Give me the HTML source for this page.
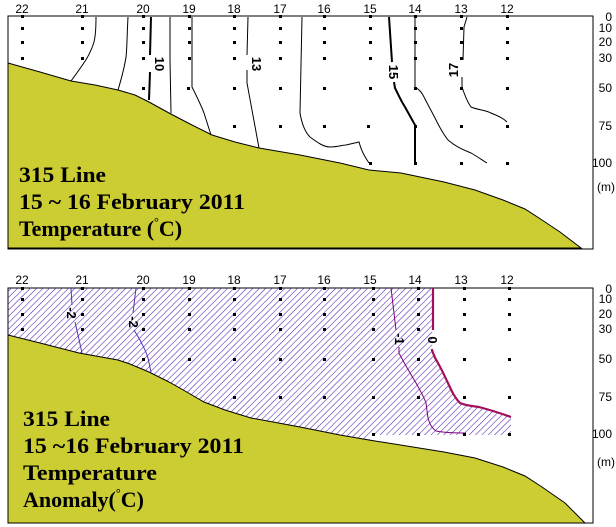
<!DOCTYPE html>
<html><head><meta charset="utf-8"><style>
html,body{margin:0;padding:0;background:#fff;}
svg{display:block;}
text{font-family:"Liberation Sans",sans-serif;}
.t{font-family:"Liberation Serif",serif;font-weight:bold;font-size:22px;fill:#000;}
.n{font-size:12px;fill:#000;}
</style></head><body>
<svg width="616" height="527" viewBox="0 0 616 527" xmlns="http://www.w3.org/2000/svg">
<defs>
<pattern id="h" patternUnits="userSpaceOnUse" width="4.5" height="4.5" patternTransform="rotate(45)">
<line x1="0" y1="0" x2="0" y2="4.5" stroke="#5020b0" stroke-width="1.1"/>
</pattern>
</defs>
<!-- TOP PANEL -->
<rect x="8" y="16" width="585" height="233" fill="#fff" stroke="#000" stroke-width="1"/>
<path d="M8,63 L40,72 71,81 95,85 118,90 135,95 149,102 169,113 190,124 212,135 235,142 259,148 300,155 340,163 369,170 401,173 444,182 475,190 503,200 525,209 542,220 560,232 581,248 L8,248 Z" fill="#cccc33" stroke="#000" stroke-width="1"/>
<g fill="none" stroke="#000" stroke-width="1">
<path d="M96,17 C96,30 95,38 94,42 C90,55 85,62 71,81"/>
<path d="M128,17 C127,35 127,50 126,57 C124,70 121,80 118,90"/>
<path d="M151,17 L150,55 M150,72 L149,100" stroke-width="2"/>
<path d="M170,17 L170,60 L171,113"/>
<path d="M192,17 L192,87 C197,97 201,105 204,113 L211,135"/>
<path d="M248,17 L247,55 M247,70 L247,83 L259,148"/>
<path d="M302,17 L300,113 C302,125 305,132 310,137 C318,143 324,147 330,147 C338,147 342,145 346,145 L359,142 C361,150 364,156 369,163"/>
<path d="M389,17 L392,62 M394,82 L395,88 C399,96 401,101 405,107 L415,125 L415,163" stroke-width="2"/>
<path d="M415,17 L415,87 C420,90 422,93 424,97 C428,105 432,112 436,120 C440,128 444,135 448,140 C456,147 464,150 471,153 C478,157 482,160 487,163"/>
<path d="M467,17 L464,27 L463,60 M462,77 L462,87 C465,96 468,103 471,107 C478,110 485,110 491,113 C498,116 503,118 507,122"/>
</g>
<g font-weight="bold" font-size="13" font-family="Liberation Sans,sans-serif">
<text transform="translate(155,64) rotate(90)" text-anchor="middle">10</text>
<text transform="translate(252,64) rotate(90)" text-anchor="middle">13</text>
<text transform="translate(389,72) rotate(90)" text-anchor="middle">15</text>
<text transform="translate(458,70) rotate(-90)" text-anchor="middle">17</text>
</g>
<g class="n" text-anchor="middle">
<text x="22" y="13">22</text><text x="82" y="13">21</text><text x="143" y="13">20</text><text x="189" y="13">19</text><text x="234" y="13">18</text><text x="280" y="13">17</text><text x="324" y="13">16</text><text x="370" y="13">15</text><text x="415" y="13">14</text><text x="461" y="13">13</text><text x="507" y="13">12</text>
</g>
<g class="n" text-anchor="end">
<text x="612" y="21">0</text><text x="612" y="32">10</text><text x="612" y="46">20</text><text x="612" y="62">30</text><text x="612" y="92">50</text><text x="612" y="130">75</text><text x="612" y="167">100</text><text x="615" y="191">(m)</text>
</g>
<text class="t" x="19" y="182" textLength="87" lengthAdjust="spacingAndGlyphs">315 Line</text>
<text class="t" x="19" y="209" textLength="226" lengthAdjust="spacingAndGlyphs">15 ~ 16 February 2011</text>
<text class="t" x="19" y="236">Temperature (<tspan font-size="12" dy="-10">°</tspan><tspan dy="10">C)</tspan></text>

<!-- BOTTOM PANEL -->
<rect x="8" y="288" width="585" height="235" fill="#fff" stroke="#000" stroke-width="1"/>
<path d="M8,288 L433,288 L432,350 C434,356 436,360 438,363 C442,370 445,377 448,383 C452,392 455,398 460,403 C467,406 473,406 479,407 C490,410 500,413 511,417 L511,435 L371,435 L369,440 L340,435 L300,427 L251,418 L225,410 L204,402 L185,391 L169,382 L149,372 L130,364 L118,360 L79,353 L40,343 L8,335 Z" fill="url(#h)"/>
<path d="M8,335 L40,343 79,353 118,360 130,364 149,372 169,382 185,391 204,402 225,410 251,418 300,427 340,435 369,440 444,452 475,458 503,467 525,476 542,487 565,503 585,523 L8,523 Z" fill="#cccc33" stroke="#000" stroke-width="1"/>
<g fill="none" stroke-width="1">
<path d="M71,288 L72,305 M75,322 L78,335 L82,353" stroke="#5a2fb0"/>
<path d="M136,288 L133,313 M134,330 L140,340 C143,346 146,351 148,358 L151,372" stroke="#5a2fb0"/>
<path d="M391,288 L396,330 M399,347 L399,353 C404,363 410,373 416,383 C420,390 424,397 426,403 L428,418 C430,425 432,428 436,431 C446,433 456,433 466,433" stroke="#800080"/>
<path d="M433,288 L433,330 M432,349 L432,350 C434,356 436,360 438,363 C442,370 445,377 448,383 C452,392 455,398 460,403 C467,406 473,406 479,407 C490,410 500,413 511,417" stroke="#a0105a" stroke-width="2.2"/>
</g>
<g font-weight="bold" font-size="13" font-family="Liberation Sans,sans-serif">
<text transform="translate(67,313) rotate(90)" text-anchor="middle">-2</text>
<text transform="translate(129,322) rotate(90)" text-anchor="middle">-2</text>
<text transform="translate(395,339) rotate(90)" text-anchor="middle">-1</text>
<text transform="translate(428,340) rotate(90)" text-anchor="middle">0</text>
</g>
<g class="n" text-anchor="middle">
<text x="22" y="284">22</text><text x="82" y="284">21</text><text x="143" y="284">20</text><text x="189" y="284">19</text><text x="234" y="284">18</text><text x="280" y="284">17</text><text x="324" y="284">16</text><text x="370" y="284">15</text><text x="415" y="284">14</text><text x="461" y="284">13</text><text x="507" y="284">12</text>
</g>
<g class="n" text-anchor="end">
<text x="612" y="293">0</text><text x="612" y="303">10</text><text x="612" y="318">20</text><text x="612" y="333">30</text><text x="612" y="363">50</text><text x="612" y="401">75</text><text x="612" y="438">100</text><text x="615" y="466">(m)</text>
</g>
<text class="t" x="23" y="426" textLength="87" lengthAdjust="spacingAndGlyphs">315 Line</text>
<text class="t" x="23" y="453" textLength="221" lengthAdjust="spacingAndGlyphs">15 ~16 February 2011</text>
<text class="t" x="23" y="480" textLength="134" lengthAdjust="spacingAndGlyphs">Temperature</text>
<text class="t" x="23" y="507">Anomaly(<tspan font-size="12" dy="-10">°</tspan><tspan dy="10">C)</tspan></text>

<!-- dots -->
<g fill="#000">
<g>
<rect x="21" y="15" width="3" height="3"/><rect x="21" y="27" width="3" height="3"/><rect x="21" y="41" width="3" height="3"/><rect x="21" y="57" width="3" height="3"/>
<rect x="81" y="15" width="3" height="3"/><rect x="81" y="27" width="3" height="3"/><rect x="81" y="41" width="3" height="3"/><rect x="81" y="57" width="3" height="3"/>
<rect x="142" y="15" width="3" height="3"/><rect x="142" y="27" width="3" height="3"/><rect x="142" y="41" width="3" height="3"/><rect x="142" y="57" width="3" height="3"/><rect x="142" y="87" width="3" height="3"/>
<rect x="188" y="15" width="3" height="3"/><rect x="188" y="27" width="3" height="3"/><rect x="188" y="41" width="3" height="3"/><rect x="188" y="57" width="3" height="3"/><rect x="187" y="87" width="3" height="3"/>
<rect x="233" y="15" width="3" height="3"/><rect x="233" y="27" width="3" height="3"/><rect x="233" y="41" width="3" height="3"/><rect x="233" y="57" width="3" height="3"/><rect x="233" y="87" width="3" height="3"/><rect x="233" y="125" width="3" height="3"/>
<rect x="279" y="15" width="3" height="3"/><rect x="279" y="27" width="3" height="3"/><rect x="279" y="41" width="3" height="3"/><rect x="279" y="57" width="3" height="3"/><rect x="279" y="87" width="3" height="3"/><rect x="279" y="125" width="3" height="3"/>
<rect x="323" y="15" width="3" height="3"/><rect x="323" y="27" width="3" height="3"/><rect x="323" y="41" width="3" height="3"/><rect x="323" y="57" width="3" height="3"/><rect x="323" y="87" width="3" height="3"/><rect x="323" y="125" width="3" height="3"/>
<rect x="369" y="15" width="3" height="3"/><rect x="369" y="27" width="3" height="3"/><rect x="369" y="41" width="3" height="3"/><rect x="369" y="57" width="3" height="3"/><rect x="369" y="87" width="3" height="3"/><rect x="367" y="125" width="3" height="3"/><rect x="369" y="162" width="3" height="3"/>
<rect x="414" y="15" width="3" height="3"/><rect x="414" y="27" width="3" height="3"/><rect x="414" y="41" width="3" height="3"/><rect x="414" y="57" width="3" height="3"/><rect x="414" y="87" width="3" height="3"/><rect x="414" y="125" width="3" height="3"/><rect x="414" y="162" width="3" height="3"/>
<rect x="460" y="15" width="3" height="3"/><rect x="460" y="27" width="3" height="3"/><rect x="460" y="41" width="3" height="3"/><rect x="460" y="57" width="3" height="3"/><rect x="460" y="87" width="3" height="3"/><rect x="460" y="125" width="3" height="3"/><rect x="460" y="162" width="3" height="3"/>
<rect x="506" y="15" width="3" height="3"/><rect x="506" y="27" width="3" height="3"/><rect x="506" y="41" width="3" height="3"/><rect x="506" y="57" width="3" height="3"/><rect x="506" y="87" width="3" height="3"/><rect x="506" y="125" width="3" height="3"/><rect x="506" y="162" width="3" height="3"/>
</g>
<g>
<rect x="21" y="287" width="3" height="3"/><rect x="21" y="298" width="3" height="3"/><rect x="21" y="313" width="3" height="3"/><rect x="21" y="328" width="3" height="3"/>
<rect x="81" y="287" width="3" height="3"/><rect x="81" y="298" width="3" height="3"/><rect x="81" y="313" width="3" height="3"/><rect x="81" y="328" width="3" height="3"/>
<rect x="142" y="287" width="3" height="3"/><rect x="142" y="298" width="3" height="3"/><rect x="142" y="313" width="3" height="3"/><rect x="142" y="328" width="3" height="3"/><rect x="142" y="358" width="3" height="3"/>
<rect x="188" y="287" width="3" height="3"/><rect x="188" y="298" width="3" height="3"/><rect x="188" y="313" width="3" height="3"/><rect x="188" y="328" width="3" height="3"/><rect x="188" y="358" width="3" height="3"/>
<rect x="233" y="287" width="3" height="3"/><rect x="233" y="298" width="3" height="3"/><rect x="233" y="313" width="3" height="3"/><rect x="233" y="328" width="3" height="3"/><rect x="233" y="358" width="3" height="3"/><rect x="233" y="396" width="3" height="3"/>
<rect x="279" y="287" width="3" height="3"/><rect x="279" y="298" width="3" height="3"/><rect x="279" y="313" width="3" height="3"/><rect x="279" y="328" width="3" height="3"/><rect x="279" y="358" width="3" height="3"/><rect x="279" y="396" width="3" height="3"/>
<rect x="323" y="287" width="3" height="3"/><rect x="323" y="298" width="3" height="3"/><rect x="323" y="313" width="3" height="3"/><rect x="323" y="328" width="3" height="3"/><rect x="323" y="358" width="3" height="3"/><rect x="323" y="396" width="3" height="3"/>
<rect x="372" y="287" width="3" height="3"/><rect x="372" y="298" width="3" height="3"/><rect x="372" y="313" width="3" height="3"/><rect x="372" y="328" width="3" height="3"/><rect x="372" y="358" width="3" height="3"/><rect x="372" y="396" width="3" height="3"/><rect x="372" y="433" width="3" height="3"/>
<rect x="417" y="287" width="3" height="3"/><rect x="417" y="298" width="3" height="3"/><rect x="417" y="313" width="3" height="3"/><rect x="417" y="328" width="3" height="3"/><rect x="417" y="358" width="3" height="3"/><rect x="417" y="396" width="3" height="3"/><rect x="417" y="433" width="3" height="3"/>
<rect x="463" y="287" width="3" height="3"/><rect x="463" y="298" width="3" height="3"/><rect x="463" y="313" width="3" height="3"/><rect x="463" y="328" width="3" height="3"/><rect x="463" y="358" width="3" height="3"/><rect x="463" y="396" width="3" height="3"/><rect x="463" y="433" width="3" height="3"/>
<rect x="508" y="287" width="3" height="3"/><rect x="508" y="298" width="3" height="3"/><rect x="508" y="313" width="3" height="3"/><rect x="508" y="328" width="3" height="3"/><rect x="508" y="358" width="3" height="3"/><rect x="508" y="396" width="3" height="3"/><rect x="508" y="433" width="3" height="3"/>
</g>
</g>
</svg>
</body></html>
